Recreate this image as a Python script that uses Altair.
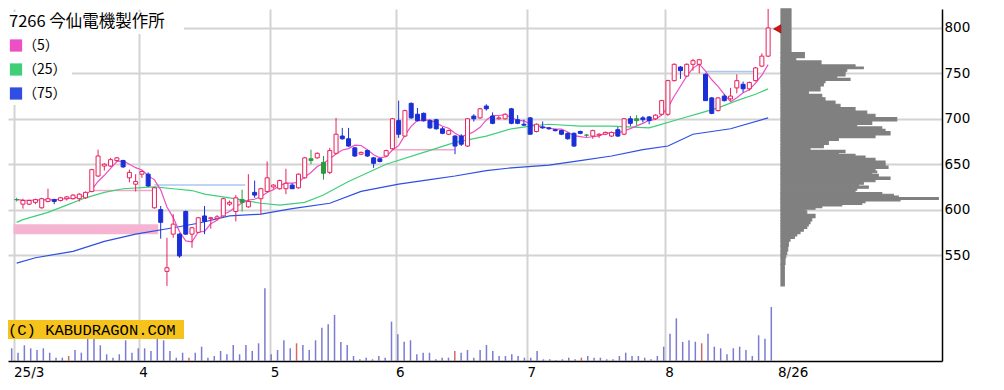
import altair as alt
import pandas as pd

# ---------------- data ----------------
JP_HOLIDAYS = ["2025-03-20", "2025-04-29", "2025-05-05", "2025-05-06", "2025-07-21", "2025-08-11"]
dates = [d.strftime("%Y-%m-%d") for d in pd.bdate_range("2025-03-03", "2025-08-26")
         if d.strftime("%Y-%m-%d") not in JP_HOLIDAYS]

title_text = "7266 今仙電機製作所"
ma_labels = ["（5）", "（25）", "（75）"]
copyright_text = "(C) KABUDRAGON.COM"

# u = up (hollow red), d = down (blue), n = unchanged (green)
kinds = list("nuuuuuduuu" "uuuuuuuduu" "ududuudduu" "duuuuunudu" "uuuuduunun"
             "uudddudddu" "ududdddddu" "ddududduud" "dddudddddd" "dnuuuududn"
             "dduuuuduuu" "dduduuduuu" "u")

opens = [611, 606, 606, 608, 602, 609, 611, 610, 612, 612,
         612, 613, 620, 637, 648, 648, 654, 654, 635, 628,
         639, 639, 602, 600, 532, 573, 573, 598, 573, 575,
         593, 590, 590, 593, 606, 598, 608, 603, 619, 612,
         620, 625, 623, 623, 627, 624, 635, 654, 657, 652,
         641, 662, 681, 678, 668, 661, 665, 657, 656, 659,
         667, 698, 681, 717, 705, 706, 698, 699, 689, 683,
         681, 681, 670, 703, 701, 714, 703, 700, 700, 711,
         699, 694, 701, 686, 691, 690, 688, 687, 684, 684,
         686, 682, 681, 682, 683, 681, 688, 683, 700, 698,
         701, 702, 700, 705, 705, 742, 757, 747, 760, 760,
         749, 723, 709, 725, 722, 734, 738, 733, 742, 758,
         769]
highs = [613, 612, 611, 612, 613, 623, 612, 614, 615, 617,
         618, 620, 645, 666, 651, 657, 658, 655, 644, 639,
         643, 641, 625, 604, 569, 595, 574, 599, 581, 592,
         604, 592, 594, 613, 610, 616, 622, 639, 632, 624,
         653, 628, 633, 645, 629, 640, 658, 666, 663, 659,
         668, 701, 690, 690, 669, 664, 666, 658, 657, 666,
         701, 720, 710, 718, 712, 707, 699, 700, 691, 688,
         682, 683, 701, 705, 712, 716, 707, 703, 706, 712,
         704, 699, 702, 695, 697, 691, 689, 688, 685, 685,
         687, 683, 688, 684, 686, 686, 691, 701, 703, 704,
         703, 703, 705, 721, 743, 761, 758, 761, 766, 766,
         750, 724, 724, 727, 734, 749, 741, 741, 757, 772,
         821]
lows = [609, 601, 605, 606, 601, 608, 606, 609, 610, 611,
        609, 612, 619, 636, 643, 647, 653, 646, 630, 620,
        635, 625, 601, 568, 516, 569, 547, 572, 558, 574,
        573, 579, 589, 592, 604, 587, 598, 602, 613, 595,
        619, 623, 622, 617, 623, 623, 634, 650, 656, 633,
        639, 661, 677, 669, 658, 660, 658, 646, 652, 658,
        666, 679, 680, 700, 697, 697, 689, 688, 683, 682,
        661, 670, 669, 697, 700, 709, 694, 699, 699, 694,
        694, 692, 683, 685, 689, 688, 686, 682, 677, 669,
        683, 680, 678, 679, 682, 680, 680, 682, 692, 693,
        696, 694, 699, 704, 703, 741, 744, 746, 753, 750,
        720, 705, 708, 719, 720, 728, 729, 731, 741, 757,
        768]
closes = [611, 610, 610, 611, 612, 612, 609, 613, 614, 616,
          617, 619, 644, 659, 650, 655, 657, 647, 641, 631,
          642, 626, 624, 586, 536, 584, 549, 573, 580, 591,
          587, 591, 592, 612, 608, 613, 611, 609, 616, 623,
          635, 627, 632, 629, 623, 639, 657, 656, 662, 640,
          665, 683, 678, 670, 659, 663, 659, 651, 653, 665,
          700, 683, 709, 701, 698, 698, 690, 689, 684, 687,
          670, 672, 700, 700, 711, 711, 695, 701, 705, 695,
          695, 693, 683, 694, 690, 689, 687, 683, 678, 670,
          684, 682, 687, 683, 685, 685, 681, 700, 695, 700,
          699, 698, 704, 720, 742, 760, 753, 760, 764, 765,
          720, 706, 723, 720, 725, 742, 733, 740, 756, 769,
          800]
# volume, thousand shares
volumes = [127, 83, 157, 127, 110, 127, 83, 33, 33, 50,
           110, 83, 223, 223, 157, 67, 33, 67, 207, 83,
           127, 127, 100, 223, 207, 100, 33, 83, 33, 83,
           143, 33, 50, 100, 67, 160, 67, 160, 100, 177,
           727, 67, 110, 207, 127, 177, 160, 110, 207, 333,
           367, 460, 190, 160, 50, 17, 33, 17, 50, 33,
           393, 267, 193, 207, 67, 83, 83, 17, 33, 33,
           100, 83, 110, 33, 110, 160, 100, 50, 50, 67,
           50, 33, 33, 100, 17, 17, 7, 17, 33, 17,
           33, 50, 33, 33, 17, 17, 50, 83, 50, 50,
           33, 17, 50, 143, 273, 427, 190, 207, 193, 177,
           273, 143, 127, 67, 127, 143, 110, 50, 257, 223,
           540]
red_volume_days = [9, 28, 45, 70, 90, 109]

# moving averages (25 / 75 days)
ma25_day = [0, 1, 5, 8, 11, 14, 17, 22, 25, 28, 30, 34, 39, 42, 46, 49, 50, 53, 59, 65,
            70, 75, 79, 82, 85, 90, 95, 101, 102, 106, 109, 112, 115, 118, 120]
ma25_val = [586, 589, 597, 605, 613, 619, 623, 625, 623, 621, 617, 613, 607, 605, 608, 616, 620, 631, 650, 663,
            674, 681, 689, 692, 694, 692, 692, 690, 692, 700, 706, 712, 720, 727, 733]
ma75_day = [0, 3, 9, 14, 19, 25, 29, 34, 39, 44, 50, 55, 61, 66, 70, 75, 79, 85, 90, 95,
            100, 104, 108, 114, 120]
ma75_val = [541, 547, 554, 565, 573, 580, 585, 593, 595, 601, 607, 620, 628, 633, 637, 643, 646, 649, 654, 659,
            666, 670, 683, 689, 701]

# price-by-volume profile (upper edge of each price row, volume)
prof_top = [821, 772.8, 767.3, 763.7, 759.3, 757.0, 755.2, 752.6, 750.8, 747.1, 744.6, 742.4, 739.8, 736.1,
            730.6, 727.0, 723.2, 719.6, 716.0, 712.2, 708.6, 705.0, 701.2, 697.6, 693.9, 691.0, 688.4, 685.8,
            682.2, 679.2, 676.3, 671.9, 668.2, 665.3, 662.7, 660.9, 659.0, 656.5, 653.5, 650.6, 648.0, 645.5,
            642.5, 640.6, 638.9, 635.9, 633.4, 630.7, 627.9, 626.0, 623.5, 621.3, 618.6, 616.9, 615.0, 613.1,
            611.3, 609.5, 607.6, 605.8, 604.0, 602.1, 600.4, 598.5, 594.8, 591.1, 587.5, 584.5, 582.0, 579.4,
            576.4, 573.5, 571.0, 568.4, 565.4, 559.9, 554.4, 550.8, 547.0, 539.8]
prof_vol = [100, 233, 147, 400, 740, 823, 657, 640, 640, 557, 690, 440, 423, 390, 273, 407, 440, 540, 590, 740,
            857, 940, 1157, 907, 757, 1007, 1040, 1090, 940, 573, 473, 423, 290, 640, 573, 740, 840, 940, 1040,
            1040, 1070, 940, 957, 907, 973, 1090, 940, 823, 773, 873, 757, 740, 1007, 1123, 1173, 1573, 1190,
            840, 807, 607, 407, 340, 240, 257, 340, 307, 290, 273, 257, 223, 190, 157, 133, 90, 73, 67, 57, 47,
            40, 33]
prof_floor = 516

# support / resistance levels
lvl_from = [12, 22, 60, 110]
lvl_to = [22, 36.5, 70, 118]
lvl_price = [621, 627, 666, 752]
lvl_kind = ["pink", "blue", "pink", "blue"]
band_lo, band_hi, band_to = 573, 584, 22.6

# ---------------- styles ----------------
RED = "#e8205a"
BLUE = "#1b2fd6"
GREEN = "#2c9b3c"
MA_COLORS = ["#ec4fc6", "#3fcf78", "#2f4ee4"]
VOL_BLUE = "#7b7bd2"
VOL_RED = "#d06a6a"
GRID = "#d3d3d3"
PROF = "#808080"
FONT = "DejaVu Sans"
JFONT = "Noto Sans CJK JP"

W, H = 934, 352
n = len(dates)
assert len(kinds) == n and len(opens) == n and len(volumes) == n

candles = pd.DataFrame({"i": range(n), "date": dates, "kind": kinds, "open": opens, "high": highs,
                        "low": lows, "close": closes, "volume": volumes})
candles["redvol"] = candles["i"].isin(red_volume_days)

ma_df = pd.concat([
    pd.DataFrame({"i": ma25_day, "v": ma25_val, "series": ma_labels[1]}),
    pd.DataFrame({"i": ma75_day, "v": ma75_val, "series": ma_labels[2]}),
])
prof_df = pd.DataFrame({"top": prof_top, "bottom": prof_top[1:] + [prof_floor], "vol": prof_vol})
prof_df["base"] = 0
lvl_df = pd.DataFrame({"a": lvl_from, "b": lvl_to, "p": lvl_price, "kind": lvl_kind})
band_df = pd.DataFrame({"a": [-0.5], "b": [band_to], "lo": [band_lo], "hi": [band_hi]})

# ---------------- scales / axes ----------------
step = 6.33
x_min = -3.7 / step
x_max = x_min + W / step
xscale = alt.Scale(domain=[x_min, x_max], nice=False, zero=False)
yscale = alt.Scale(domain=[433.3, 820.9], nice=False, zero=False)

month_idx = [0] + [k for k in range(1, n) if dates[k][5:7] != dates[k - 1][5:7]]
tick_vals = [k - 0.5 for k in month_idx] + [n - 1 + 1.5]
tick_labs = [dates[0][2:4] + "/" + str(int(dates[0][5:7]))] + \
            [str(int(dates[k][5:7])) for k in month_idx[1:]] + \
            [str(int(dates[-1][5:7])) + "/" + str(int(dates[-1][8:10]))]
label_expr = " : ".join(f"datum.value == {v} ? '{l}'" for v, l in zip(tick_vals, tick_labs)) + " : ''"

xaxis = alt.Axis(values=tick_vals, labelExpr=label_expr, labelAlign="left", labelBaseline="top",
                 labelPadding=4, labelFont=FONT, labelFontSize=13.5, labelColor="black",
                 labelFlush=False, labelOverlap=False, ticks=False, tickSize=0,
                 grid=True, gridWidth=2,
                 gridColor={"condition": {"test": f"datum.value > {n - 1}", "value": "transparent"},
                            "value": GRID},
                 domainColor="black", domainWidth=1.5, title=None)
yaxis = alt.Axis(values=[550, 600, 650, 700, 750, 800], orient="right", ticks=False, tickSize=0,
                 labelPadding=2, labelFont=FONT, labelFontSize=13.5, labelColor="black",
                 grid=True, gridColor=GRID, gridWidth=2,
                 domainColor="black", domainWidth=1.5, title=None)


def X(f):
    return alt.X(f, type="quantitative", scale=xscale, axis=xaxis)


def Y(f):
    return alt.Y(f, type="quantitative", scale=yscale, axis=yaxis)


color_scale = alt.Scale(domain=ma_labels, range=MA_COLORS)
stroke_c = alt.value(RED, condition=[{"test": "datum.kind == 'd'", "value": BLUE},
                                     {"test": "datum.kind == 'n'", "value": GREEN}])
fill_c = alt.value("white", condition=[{"test": "datum.kind == 'd'", "value": BLUE},
                                       {"test": "datum.kind == 'n'", "value": GREEN}])

# legend source first so its legend definition wins the merge
legend_src = alt.Chart(pd.DataFrame({"series": ma_labels})).transform_filter("false").mark_square(
    size=150, filled=True, opacity=1).encode(
    color=alt.Color("series:N", scale=color_scale, legend=alt.Legend(
        title=title_text, orient="none", legendX=0, legendY=4, direction="vertical",
        symbolType="square", symbolSize=150, symbolStrokeWidth=0, symbolOpacity=1,
        titleFont=JFONT, titleFontSize=16.5, titleFontWeight="normal", titleColor="black",
        titlePadding=8, labelFont=JFONT, labelFontSize=14, labelColor="black",
        labelOffset=0, rowPadding=10, padding=1)))
# white backing behind the legend title and entries
lg = pd.DataFrame({"t": ["legend"]})
legend_bg_title = alt.Chart(lg).mark_rect(color="white").encode(
    x=alt.value(0), x2=alt.value(176), y=alt.value(3), y2=alt.value(25))
legend_bg_entries = alt.Chart(lg).mark_rect(color="white").encode(
    x=alt.value(0), x2=alt.value(64), y=alt.value(25), y2=alt.value(96))
band = alt.Chart(band_df).mark_rect(color="#f4b4d2", clip=True).encode(
    x=X("a"), x2="b", y=Y("lo"), y2="hi")
levels = alt.Chart(lvl_df).mark_rule(strokeWidth=1.5).encode(
    x=X("a"), x2="b", y=Y("p"),
    stroke=alt.value("#f2a6c8", condition={"test": "datum.kind == 'blue'", "value": "#a9c8ee"}))
ma_lines = alt.Chart(ma_df).mark_line(strokeWidth=1.2).encode(
    x=X("i"), y=Y("v"), color=alt.Color("series:N", scale=color_scale),
    detail="series:N", order="i:Q")
ma5 = alt.Chart(candles).transform_window(
    v="mean(close)", frame=[-4, 0], sort=[alt.SortField("i")]
).transform_calculate(series=f"'{ma_labels[0]}'").mark_line(strokeWidth=1.2).encode(
    x=X("i"), y=Y("v"), color=alt.Color("series:N", scale=color_scale), order="i:Q")
wicks = alt.Chart(candles).mark_rule(strokeWidth=1).encode(
    x=X("i"), y=Y("low"), y2="high", stroke=stroke_c)
bodies = alt.Chart(candles).mark_bar(size=4, strokeWidth=1).encode(
    x=X("i"), y=Y("open"), y2="close", fill=fill_c, stroke=stroke_c)
marker = alt.Chart(pd.DataFrame({"i": [n - 1 + 1.45], "p": [closes[-1] - 1]})).mark_point(
    shape="triangle-left", filled=True, size=70, color="#dd1010", stroke="#7a0000",
    strokeWidth=0.6, opacity=1).encode(x=X("i"), y=Y("p"))
cr = pd.DataFrame({"t": [copyright_text]})
cr_box = alt.Chart(cr).mark_rect(color="#f6c31c").encode(
    x=alt.value(0), x2=alt.value(176), y=alt.value(311), y2=alt.value(330))
cr_txt = alt.Chart(cr).mark_text(align="left", baseline="middle", font="Liberation Mono",
                                 fontSize=15.5, color="black").encode(
    x=alt.value(0), y=alt.value(321), text="t:N")

main = alt.layer(legend_src, legend_bg_title, legend_bg_entries, band, levels, ma_lines, ma5,
                 wicks, bodies, marker, cr_box, cr_txt)

vol = alt.Chart(candles).mark_rule(strokeWidth=1.5).encode(
    x=alt.X("i:Q", scale=xscale, axis=None),
    y=alt.Y("volume:Q", scale=alt.Scale(domain=[0, 3520], nice=False), axis=None),
    y2=alt.datum(0),
    stroke=alt.value(VOL_BLUE, condition={"test": "datum.redvol", "value": VOL_RED}))

prof_scale = alt.Scale(domain=[-7730, 1610], nice=False, zero=False)
profile = alt.Chart(prof_df).mark_rect(color=PROF, stroke=PROF, strokeWidth=1.2).encode(
    x=alt.X("base:Q", scale=prof_scale, axis=None), x2="vol:Q",
    y=alt.Y("top:Q", scale=yscale, axis=None), y2="bottom:Q")

chart = alt.layer(profile, vol, main).resolve_scale(
    x="independent", y="independent"
).properties(width=W, height=H, padding=0).configure_view(stroke=None)

chart.save("out.html", embed_options={"renderer": "svg", "actions": False})
